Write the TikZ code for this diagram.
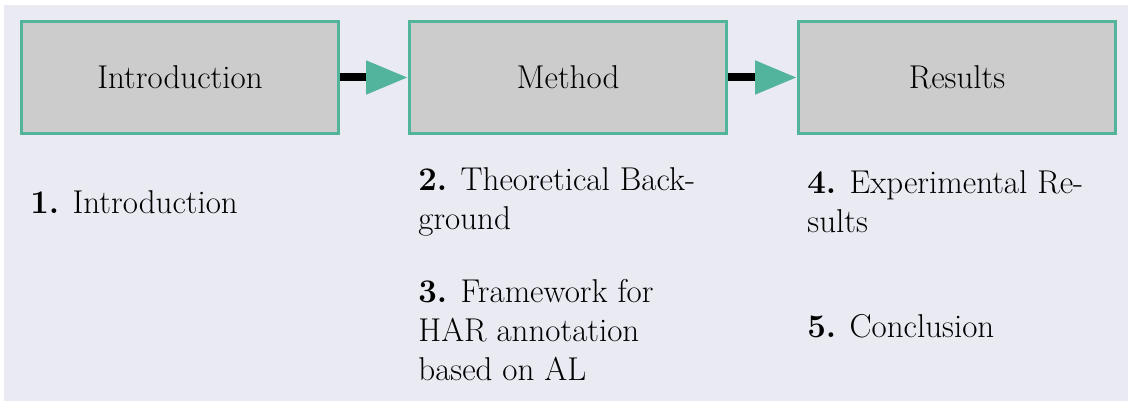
\documentclass[tikz,border=0pt]{standalone}
\usetikzlibrary{arrows.meta}

\definecolor{panel}{HTML}{EAEAF2}
\definecolor{boxgray}{HTML}{CCCCCC}
\definecolor{seagreen}{HTML}{52B59B}

\tikzset{
	part/.style={draw=seagreen, line width=1.5pt, fill=boxgray,
		minimum width=158.5pt, minimum height=56pt,
		font=\fontsize{16.5}{19.5}\selectfont},
	chapters/.style={anchor=base west, inner sep=0pt, align=left,
		font=\fontsize{16.5}{19.5}\selectfont},
	flow/.style={line width=4pt,
		-{Triangle[length=21pt, width=16pt, color=seagreen]}}
}

\begin{document}
\begin{tikzpicture}
		[x=0.5pt, y=-0.5pt]
		\useasboundingbox (0,0) rectangle (1129,401);
		\fill[panel] (4,5) rectangle (1128,401);

		\node[part] (intro) at (180,77.5) {Introduction};
		\node[part] (method) at (568,77.5) {Method};
		\node[part] (results) at (957,77.5) {Results};

		\draw[flow] (intro.east) -- (method.west);
		\draw[flow] (method.east) -- (results.west);

		% base of a multi-line node sits on its last line
		\node[chapters] (ch1) at (30,213) {\textbf{1.} Introduction};
		\node[chapters] (ch2) at (418,229) {\textbf{2.} Theoretical Back-\\ground};
		\node[chapters] (ch3) at (418,380) {\textbf{3.} Framework for\\HAR annotation\\based on AL};
		\node[chapters] (ch4) at (807,232) {\textbf{4.} Experimental Re-\\sults};
		\node[chapters] (ch5) at (807,337) {\textbf{5.} Conclusion};
	\end{tikzpicture}
\end{document}
